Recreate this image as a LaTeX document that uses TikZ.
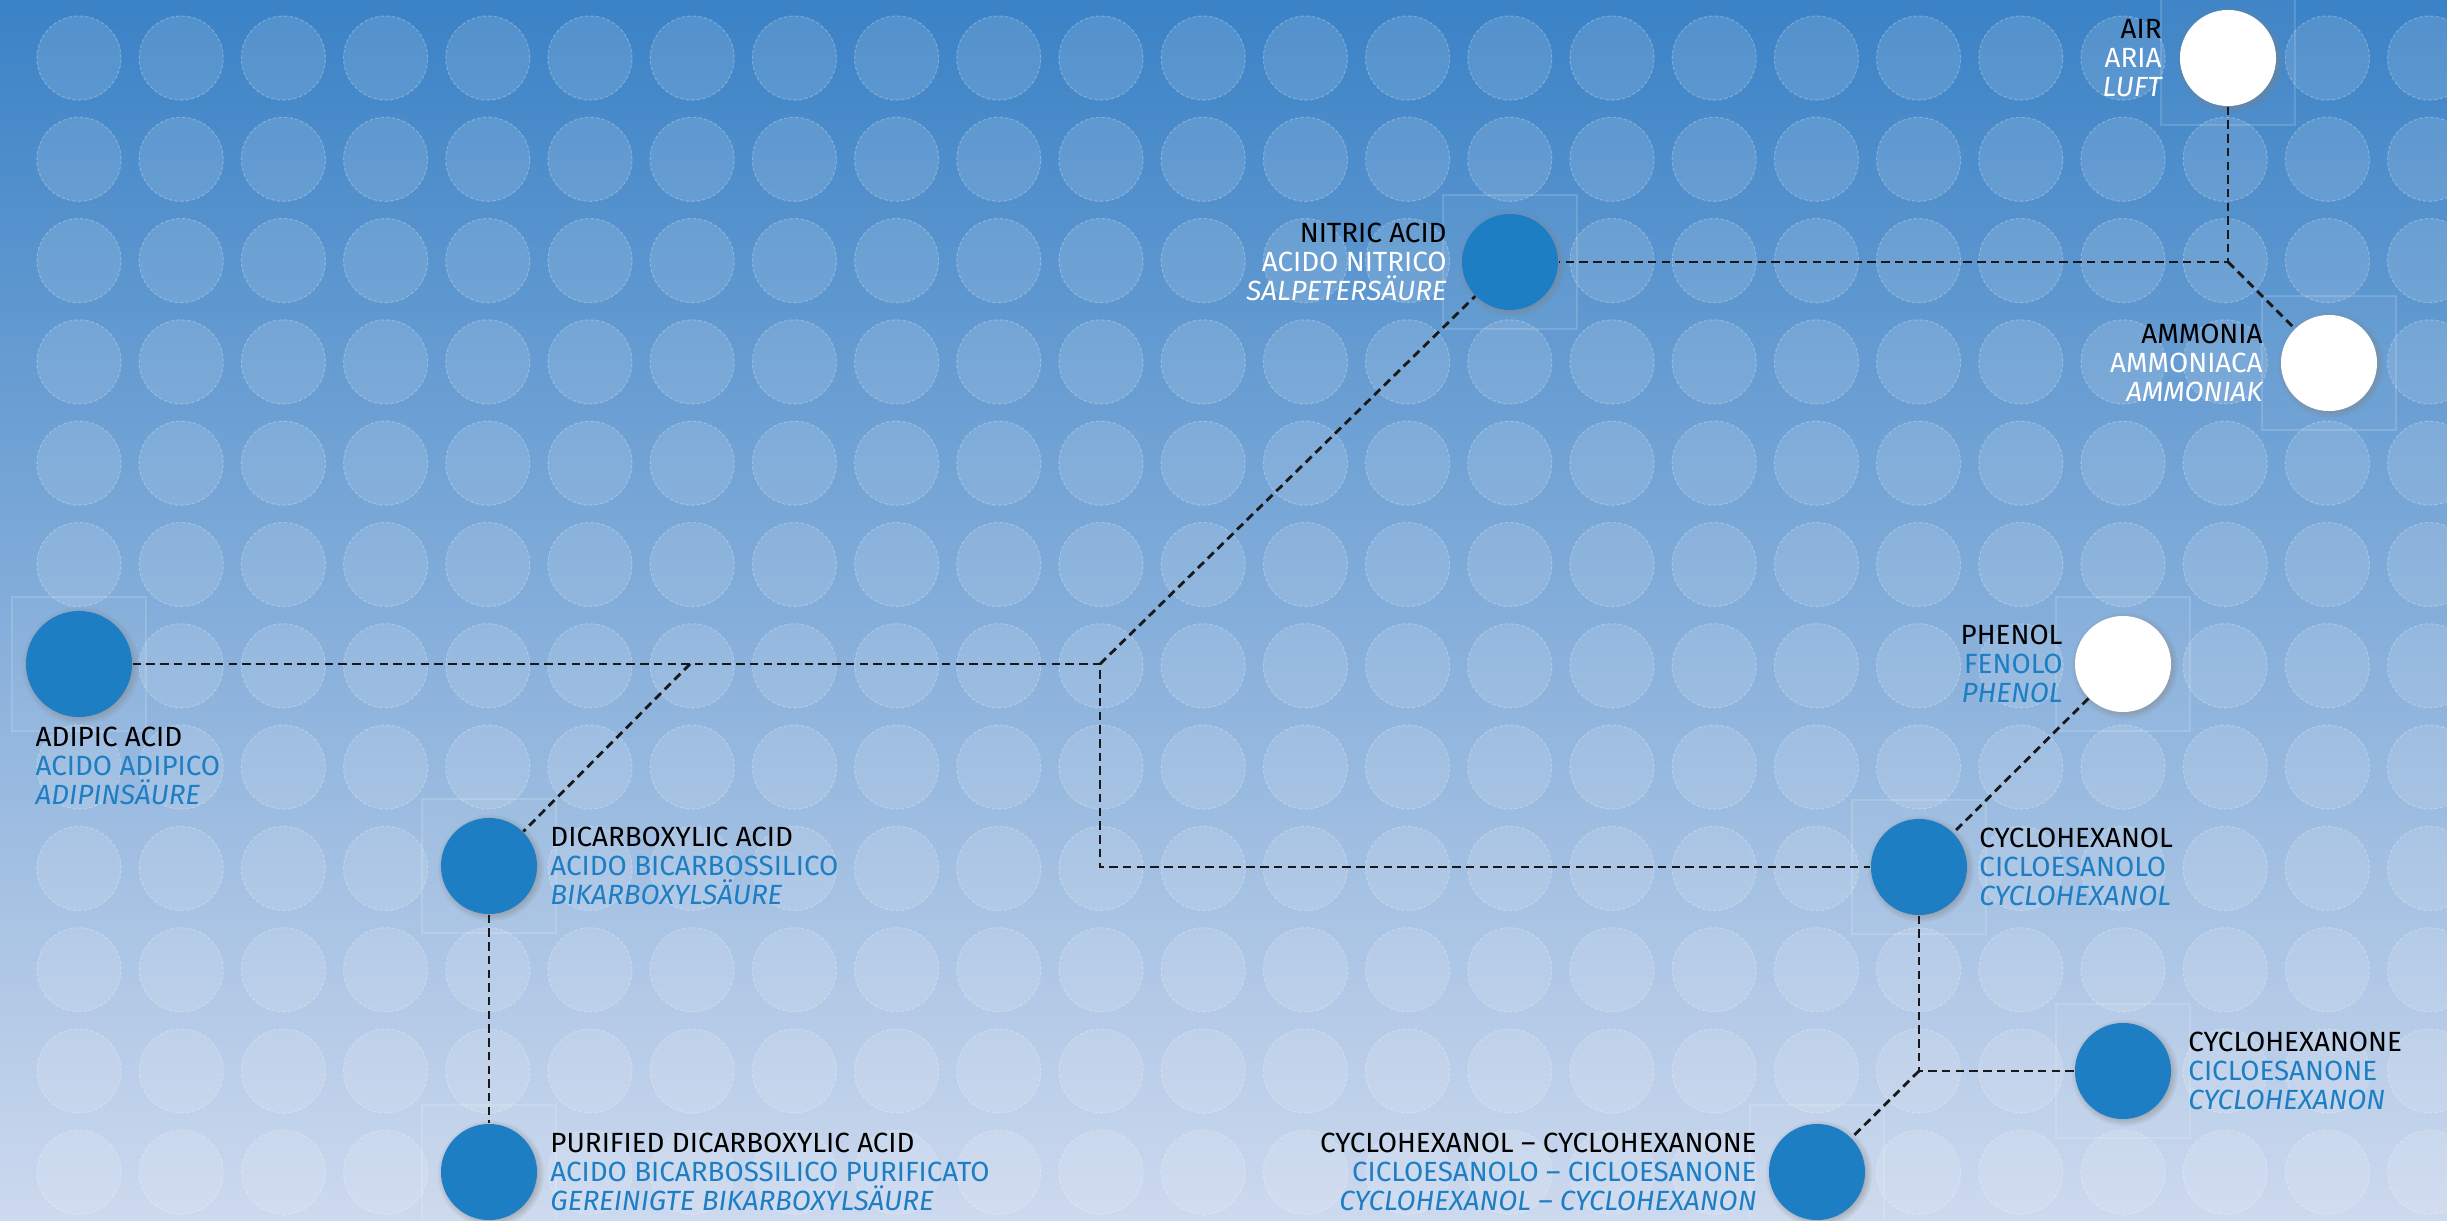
\documentclass[tikz,border=0pt]{standalone}
\usepackage{fontspec}
\setmainfont{Fira Sans}
\usetikzlibrary{shadows,backgrounds,calc}
\definecolor{azure}{RGB}{30,126,196}
\definecolor{skytop}{RGB}{58,130,198}
\definecolor{skymid}{RGB}{126,164,215}
\definecolor{skylow}{RGB}{205,217,238}
\tikzstyle{blue dot}=[circle, inner sep=0pt, minimum size=0.96cm, fill=azure,
  circular drop shadow={shadow xshift=.4pt, shadow yshift=-.4pt, shadow scale=1.12, opacity=.45}]
\tikzstyle{white dot}=[blue dot, fill=white]
\tikzstyle{names left}=[anchor=east, align=right, inner sep=0pt, font=\fontsize{7.9}{8.25}\selectfont]
\tikzstyle{names right}=[names left, anchor=west, align=left]
\tikzstyle{link}=[black!90, line width=.8pt, dash pattern=on 2.4pt off 1.5pt]
\tikzstyle{bubble}=[fill=white, fill opacity=.12, draw=white, draw opacity=.25, line width=.3pt, dash pattern=on 1pt off .6pt]
\tikzstyle{frame}=[draw=white, draw opacity=.15, line width=.4pt, fill=white, fill opacity=.03]
\newcommand{\names}[4][azure]{\textcolor{black}{#2}\\\textcolor{#1}{#3}\\\textcolor{#1}{\itshape #4}}

\begin{document}
\begin{tikzpicture}[x=0.01cm, y=-0.01cm]
    \useasboundingbox (0,0) rectangle (2447,1221);

    % Substances
    \draw (2228,58) node[white dot] (air) {};
    \draw (2329,363) node[white dot] (ammonia) {};
    \draw (1510,262) node[blue dot] (nitric) {};
    \draw (79,664) node[blue dot, minimum size=1.06cm] (adipic) {};
    \draw (2123,664) node[white dot] (phenol) {};
    \draw (489,866) node[blue dot] (dicarb) {};
    \draw (1919,867) node[blue dot] (cyclol) {};
    \draw (2123,1071) node[blue dot] (cyclone) {};
    \draw (489,1172) node[blue dot] (purified) {};
    \draw (1817,1172) node[blue dot] (mix) {};

    % Names
    \draw ([xshift=-0.17cm]air.west) node[names left] (airtxt) {\names[white]{AIR}{ARIA}{LUFT}};
    \draw ([xshift=-0.17cm]ammonia.west) node[names left] (ammoniatxt) {\names[white]{AMMONIA}{AMMONIACA}{AMMONIAK}};
    \draw ([xshift=-0.14cm]nitric.west) node[names left] (nitrictxt) {\names[white]{NITRIC ACID}{ACIDO NITRICO}{SALPETERS\"AURE}};
    \draw (35,726) node[names right, anchor=north west] (adipictxt) {\names{ADIPIC ACID}{ACIDO ADIPICO}{ADIPINS\"AURE}};
    \draw ([xshift=-0.11cm]phenol.west) node[names left] (phenoltxt) {\names{PHENOL}{FENOLO}{PHENOL}};
    \draw ([xshift=0.12cm]dicarb.east) node[names right] (dicarbtxt) {\names{DICARBOXYLIC ACID}{ACIDO BICARBOSSILICO}{BIKARBOXYLS\"AURE}};
    \draw ([xshift=0.11cm]cyclol.east) node[names right] (cycloltxt) {\names{CYCLOHEXANOL}{CICLOESANOLO}{CYCLOHEXANOL}};
    \draw ([xshift=0.16cm]cyclone.east) node[names right] (cyclonetxt) {\names{CYCLOHEXANONE}{CICLOESANONE}{CYCLOHEXANON}};
    \draw ([xshift=0.12cm]purified.east) node[names right] (purifiedtxt) {\names{PURIFIED DICARBOXYLIC ACID}{ACIDO BICARBOSSILICO PURIFICATO}{GEREINIGTE BIKARBOXYLS\"AURE}};
    \draw ([xshift=-0.11cm]mix.west) node[names left] (mixtxt) {\names{CYCLOHEXANOL -- CYCLOHEXANONE}{CICLOESANOLO -- CICLOESANONE}{CYCLOHEXANOL -- CYCLOHEXANON}};

    % Links
    \coordinate (airfork) at (air |- nitric);
    \coordinate (acidfork) at (1100,664);
    \coordinate (dicfork) at (690,664);
    \coordinate (olfork) at (cyclol |- cyclone);
    \draw[link] (air) -- (airfork) -- (nitric);
    \draw[link] (airfork) -- (ammonia);
    \draw[link] (adipic) -- (acidfork) -- (acidfork |- cyclol) -- (cyclol);
    \draw[link] (acidfork) -- (nitric);
    \draw[link] (dicfork) -- (dicarb);
    \draw[link] (dicarb) -- (purified);
    \draw[link] (phenol) -- (cyclol);
    \draw[link] (cyclol) -- (olfork) -- (cyclone);
    \draw[link] (olfork) -- (mix);

    % Backdrop
    \begin{pgfonlayer}{background}
    \begin{scope}
      \clip (0,0) rectangle (2447,1221);
      \shade[top color=skytop, middle color=skymid, bottom color=skylow] (0,0) rectangle (2447,1221);
      \foreach \col in {0,...,23}
        \foreach \row in {0,...,11}
          \draw[bubble] (79+102.2*\col, 58+101.3*\row) circle (0.42cm);
      \foreach \n in {air,ammonia,nitric,adipic,phenol,dicarb,cyclol,cyclone,purified,mix}
        \draw[frame] ($(\n)+(-67,-67)$) rectangle ($(\n)+(67,67)$);
    \end{scope}
    \end{pgfonlayer}

\end{tikzpicture}
\end{document}
